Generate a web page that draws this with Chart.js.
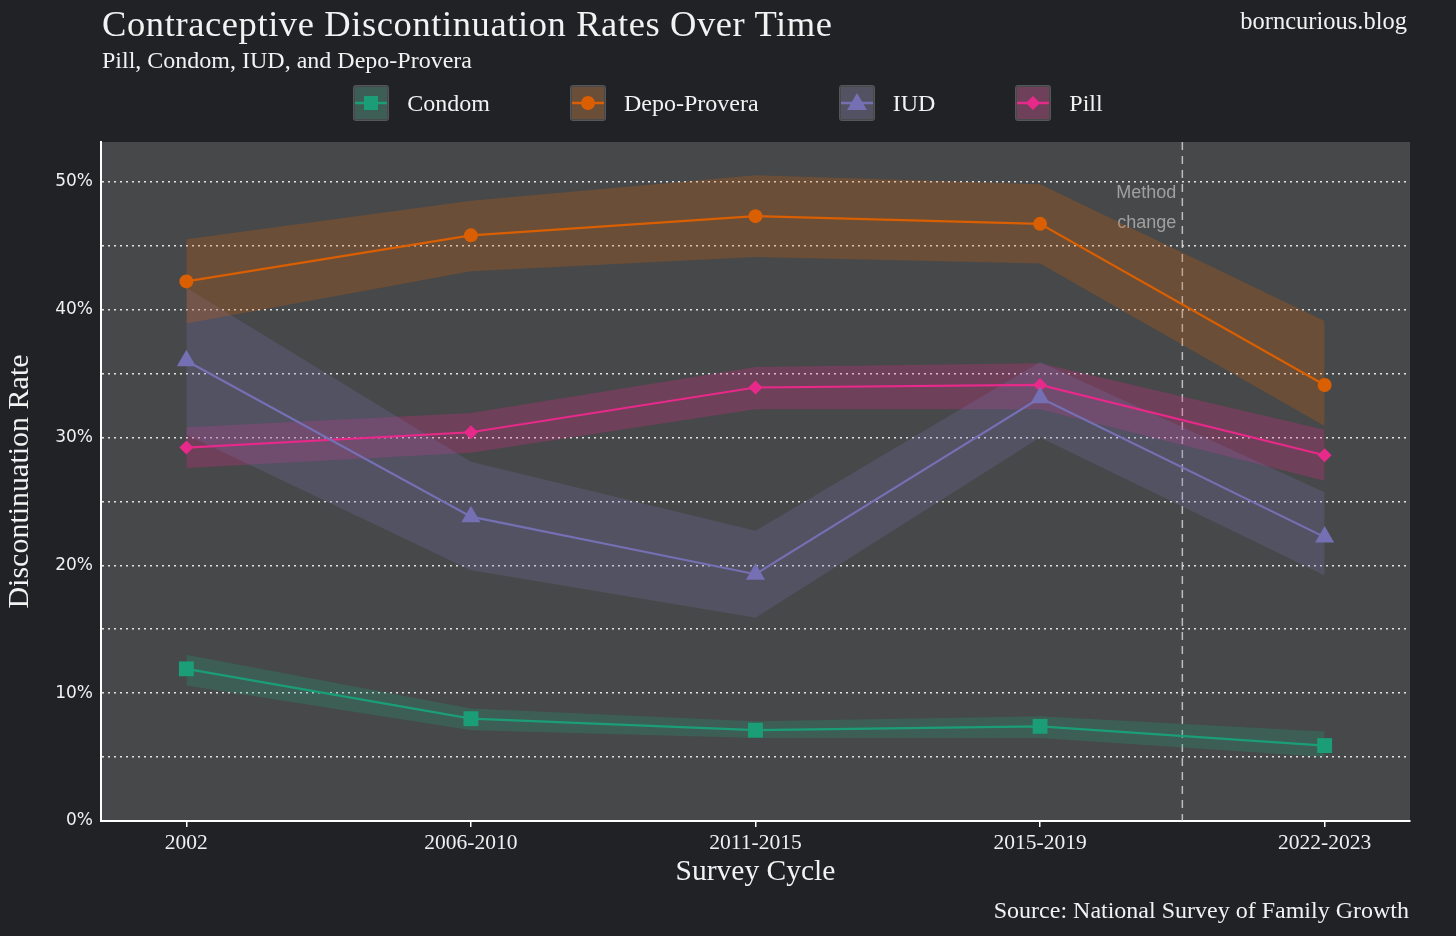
<!DOCTYPE html>
<html>
<head>
<meta charset="utf-8">
<script src="https://cdn.jsdelivr.net/npm/chart.js@4.4.1/dist/chart.umd.min.js"></script>
<style>
  html, body { margin: 0; padding: 0; background: #212225; }
  #wrap { position: relative; width: 1456px; height: 936px; overflow: hidden;
          font-family: "Liberation Serif", "DejaVu Serif", serif; color: #f2f2f2; }
  #chart { position: absolute; left: 0; top: 0; }
  .title { position: absolute; left: 102px; top: 2px; font-size: 36.5px; letter-spacing: 0.6px; white-space: nowrap; }
  .subtitle { position: absolute; left: 102px; top: 47px; font-size: 24px; white-space: nowrap; }
  .brand { position: absolute; right: 49px; top: 7px; font-size: 24.5px; white-space: nowrap; }
  .source { position: absolute; right: 47px; top: 897px; font-size: 24px; white-space: nowrap; }
  #legend { position: absolute; left: 0; top: 85px; width: 1456px; display: flex; justify-content: center; }
  .item { display: flex; align-items: center; margin: 0 40px; }
  .item span { font-size: 24px; margin-left: 18px; }
</style>
</head>
<body>
<div id="wrap">
  <canvas id="chart" width="1456" height="936"></canvas>
  <div class="title">Contraceptive Discontinuation Rates Over Time</div>
  <div class="subtitle">Pill, Condom, IUD, and Depo-Provera</div>
  <div class="brand">borncurious.blog</div>
  <div class="source">Source: National Survey of Family Growth</div>
  <div id="legend"></div>
</div>
<script>
// survey cycles
const cycles = ['2002', '2006-2010', '2011-2015', '2015-2019', '2022-2023'];
const yTicks = [0, 10, 20, 30, 40, 50];

// discontinuation rates (%) with confidence bands
const condom     = [11.9, 8.0, 7.1, 7.4, 5.9];
const condomLow  = [10.6, 7.1, 6.5, 6.5, 5.0];
const condomHigh = [13.0, 8.8, 7.8, 8.2, 7.0];

const depo     = [42.2, 45.8, 47.3, 46.7, 34.1];
const depoLow  = [38.9, 43.0, 44.1, 43.6, 30.9];
const depoHigh = [45.5, 48.5, 50.5, 49.8, 39.1];

const iud     = [36.0, 23.8, 19.3, 33.1, 22.2];
const iudLow  = [30.2, 19.6, 15.9, 30.0, 19.2];
const iudHigh = [41.7, 28.1, 22.7, 35.9, 25.7];

const pill     = [29.2, 30.4, 33.9, 34.1, 28.6];
const pillLow  = [27.6, 28.8, 32.2, 32.2, 26.6];
const pillHigh = [30.8, 31.9, 35.5, 35.8, 30.6];

const methodChangeAt = 3.5;

const series = [
  { name: 'Condom', color: '#1b9e77', rgb: '27,158,119', point: 'rect', radius: 10.5, rate: condom, low: condomLow, high: condomHigh },
  { name: 'Depo-Provera', color: '#d95f02', rgb: '217,95,2', point: 'circle', radius: 7, rate: depo, low: depoLow, high: depoHigh },
  { name: 'IUD', color: '#7570b3', rgb: '117,112,179', point: 'triangle', radius: 11, rate: iud, low: iudLow, high: iudHigh },
  { name: 'Pill', color: '#e7298a', rgb: '231,41,138', point: 'rectRot', radius: 7, rate: pill, low: pillLow, high: pillHigh }
];

const pts = arr => arr.map((v, i) => ({ x: i, y: v }));

const datasets = [];
series.forEach(s => {
  const lowIdx = datasets.length;
  datasets.push({ data: pts(s.low), borderWidth: 0, pointRadius: 0, fill: false, order: 3 });
  datasets.push({ data: pts(s.high), borderWidth: 0, pointRadius: 0, fill: lowIdx,
                  backgroundColor: 'rgba(' + s.rgb + ',0.25)', order: 3 });
});
series.forEach(s => {
  datasets.push({
    label: s.name, data: pts(s.rate), borderColor: s.color, backgroundColor: s.color,
    borderWidth: 2.2, pointStyle: s.point, pointRadius: s.radius, pointHoverRadius: s.radius,
    pointBorderWidth: 0, fill: false, order: 1
  });
});

// panel background, method change marker
const panelPlugin = {
  id: 'panel',
  beforeDraw(chart) {
    const a = chart.chartArea, ctx = chart.ctx;
    ctx.save();
    ctx.fillStyle = '#474849';
    ctx.fillRect(a.left, a.top, a.right - a.left, a.bottom - a.top);
    ctx.restore();
  },
  beforeDatasetsDraw(chart) {
    const a = chart.chartArea, ctx = chart.ctx;
    const x = chart.scales.x.getPixelForValue(methodChangeAt);
    ctx.save();
    ctx.strokeStyle = 'rgba(220,220,220,0.8)';
    ctx.lineWidth = 1.5;
    ctx.setLineDash([8, 6]);
    ctx.beginPath();
    ctx.moveTo(x, a.top);
    ctx.lineTo(x, a.bottom);
    ctx.stroke();
    ctx.setLineDash([]);
    ctx.fillStyle = '#a0a0a0';
    ctx.font = '18px "Liberation Sans", Arial, sans-serif';
    ctx.textAlign = 'right';
    ctx.textBaseline = 'middle';
    ctx.fillText('Method', x - 6, chart.scales.y.getPixelForValue(49.1));
    ctx.fillText('change', x - 6, chart.scales.y.getPixelForValue(46.8));
    ctx.restore();
  }
};

new Chart(document.getElementById('chart'), {
  type: 'line',
  data: { datasets },
  options: {
    responsive: false,
    animation: false,
    layout: { padding: { top: 142, right: 46, bottom: 46, left: 2 } },
    plugins: { legend: { display: false }, tooltip: { enabled: false } },
    scales: {
      x: {
        type: 'linear', min: -0.3, max: 4.3,
        afterBuildTicks: sc => { sc.ticks = cycles.map((c, i) => ({ value: i })); },
        afterFit: sc => { sc.height = 69; },
        ticks: { color: '#f0f0f0', font: { family: '"Liberation Serif", serif', size: 21.5 }, padding: 3,
                 callback: v => cycles[v] },
        grid: { drawOnChartArea: false, color: '#ffffff', tickLength: 6, lineWidth: 1.5 },
        border: { color: '#ffffff', width: 2 },
        title: { display: true, text: 'Survey Cycle', color: '#f2f2f2',
                 font: { family: '"Liberation Serif", serif', size: 29.5 }, padding: { top: 2, bottom: 0 } }
      },
      y: {
        min: 0, max: 53.1,
        afterBuildTicks: sc => { sc.ticks = sc.ticks.filter(t => t.value % 5 === 0); },
        afterFit: sc => { sc.width = 99; },
        ticks: { stepSize: 5, color: '#f0f0f0', font: { family: '"DejaVu Sans", sans-serif', size: 17 }, padding: 8,
                 callback: v => yTicks.includes(v) ? v + '%' : '' },
        grid: { color: 'rgba(255,255,255,0.85)', lineWidth: 1.5, drawTicks: false },
        border: { color: '#ffffff', width: 2, dash: [2, 4] },
        title: { display: true, text: 'Discontinuation Rate', color: '#f2f2f2',
                 font: { family: '"Liberation Serif", serif', size: 30 }, padding: { top: 0, bottom: 8 } }
      }
    }
  },
  plugins: [panelPlugin]
});

// legend keys
const legend = document.getElementById('legend');
const markerSvg = s => {
  const c = s.color;
  if (s.point === 'rect') return '<rect x="11" y="11" width="14" height="14" fill="' + c + '"/>';
  if (s.point === 'circle') return '<circle cx="18" cy="18" r="7" fill="' + c + '"/>';
  if (s.point === 'triangle') return '<polygon points="18,8 28,25 8,25" fill="' + c + '"/>';
  return '<polygon points="18,11 25,18 18,25 11,18" fill="' + c + '"/>';
};
series.forEach(s => {
  const item = document.createElement('div');
  item.className = 'item';
  item.innerHTML =
    '<svg width="36" height="36"><rect x="0.5" y="0.5" width="35" height="35" rx="2" fill="#474849" stroke="#55565a"/>' +
    '<rect x="2" y="2" width="32" height="32" fill="rgba(' + s.rgb + ',0.25)"/>' +
    '<line x1="2" y1="18" x2="34" y2="18" stroke="' + s.color + '" stroke-width="2.5"/>' + markerSvg(s) + '</svg>' +
    '<span>' + s.name + '</span>';
  legend.appendChild(item);
});
</script>
</body>
</html>
